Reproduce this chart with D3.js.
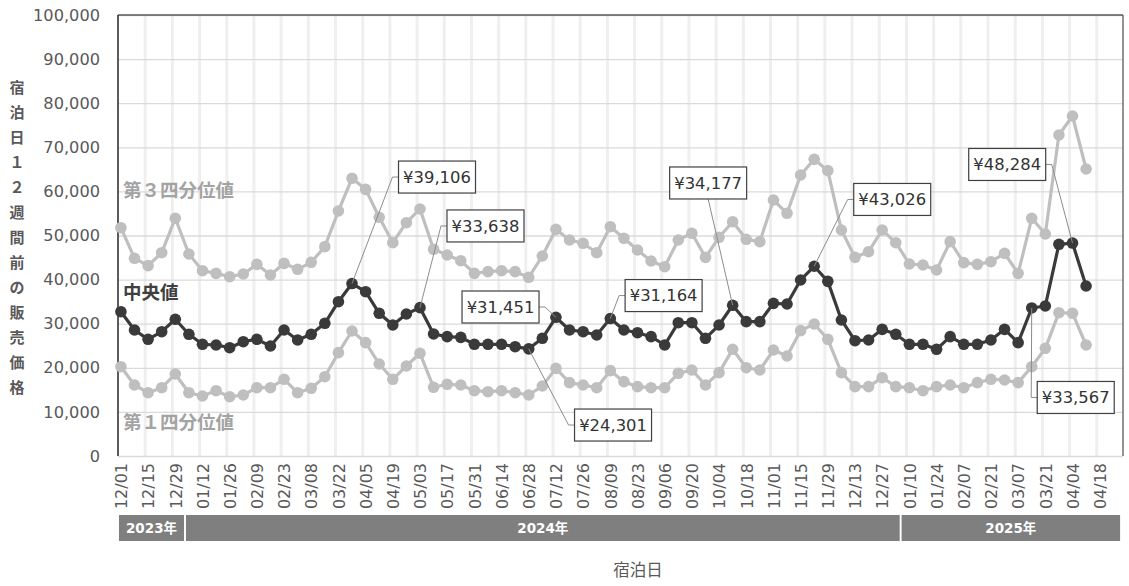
<!DOCTYPE html>
<html><head><meta charset="utf-8">
<script src="https://cdn.jsdelivr.net/npm/d3@7"></script>
<style>
html,body{margin:0;padding:0;background:#fff;}
svg{display:block;font-family:"DejaVu Sans","Noto Sans CJK JP",sans-serif;}
</style></head>
<body>
<svg id="c" width="1129" height="586"></svg>
<script>
const weeks = ["2023-12-01","2023-12-08","2023-12-15","2023-12-22","2023-12-29",
"2024-01-05","2024-01-12","2024-01-19","2024-01-26","2024-02-02","2024-02-09","2024-02-16","2024-02-23",
"2024-03-01","2024-03-08","2024-03-15","2024-03-22","2024-03-29","2024-04-05","2024-04-12","2024-04-19","2024-04-26",
"2024-05-03","2024-05-10","2024-05-17","2024-05-24","2024-05-31","2024-06-07","2024-06-14","2024-06-21","2024-06-28",
"2024-07-05","2024-07-12","2024-07-19","2024-07-26","2024-08-02","2024-08-09","2024-08-16","2024-08-23","2024-08-30",
"2024-09-06","2024-09-13","2024-09-20","2024-09-27","2024-10-04","2024-10-11","2024-10-18","2024-10-25",
"2024-11-01","2024-11-08","2024-11-15","2024-11-22","2024-11-29","2024-12-06","2024-12-13","2024-12-20","2024-12-27",
"2025-01-03","2025-01-10","2025-01-17","2025-01-24","2025-01-31","2025-02-07","2025-02-14","2025-02-21","2025-02-28",
"2025-03-07","2025-03-14","2025-03-21","2025-03-28","2025-04-04","2025-04-11"];

const q3Values = [51770,44830,43160,46100,53900,45800,42020,41420,40660,41270,
43460,41040,43690,42330,43920,47470,55560,62970,60470,54130,
48370,52900,56010,46870,45580,44290,41420,41800,42020,41800,
40520,45350,51400,48980,48230,46100,52000,49360,46710,44220,
42930,48980,50500,45050,49590,53130,49140,48600,58050,55030,
63720,67280,64700,51250,45050,46330,51250,48370,43540,43310,
42180,48600,43840,43460,44060,45960,41420,53900,50340,72790,
77100,65080];

const medianValues = [32720,28570,26460,28190,31000,27600,25330,25170,24560,25920,
26460,24940,28570,26300,27600,30090,34990,39106,37260,32360,
29700,32200,33638,27660,27060,26910,25330,25330,25330,24790,
24301,26690,31451,28570,28190,27440,31164,28570,27960,27060,
25170,30230,30230,26690,29700,34177,30460,30460,34620,34470,
39910,43026,39600,30840,26150,26300,28720,27600,25330,25330,
24190,27060,25330,25330,26300,28720,25700,33567,34010,48000,
48284,38550];

const q1Values = [20250,16100,14350,15490,18590,14350,13610,14810,13450,13830,
15490,15490,17390,14350,15350,17980,23430,28340,25700,20860,
17390,20410,23290,15580,16260,16100,14810,14580,14810,14350,
13830,15870,19870,16630,16100,15490,19350,16860,15720,15490,
15490,18750,19500,16100,18900,24190,20020,19500,24040,22680,
28420,29930,26460,18900,15720,15720,17760,15720,15490,14810,
15720,16100,15490,16630,17390,17230,16630,20250,24420,32500,
32360,25170];

const tickDates = ["2023-12-01","2023-12-15","2023-12-29","2024-01-12","2024-01-26","2024-02-09","2024-02-23",
"2024-03-08","2024-03-22","2024-04-05","2024-04-19","2024-05-03","2024-05-17","2024-05-31","2024-06-14","2024-06-28",
"2024-07-12","2024-07-26","2024-08-09","2024-08-23","2024-09-06","2024-09-20","2024-10-04","2024-10-18",
"2024-11-01","2024-11-15","2024-11-29","2024-12-13","2024-12-27","2025-01-10","2025-01-24","2025-02-07",
"2025-02-21","2025-03-07","2025-03-21","2025-04-04","2025-04-18"];

const yTicks = [0,10000,20000,30000,40000,50000,60000,70000,80000,90000,100000];

const yearLabels = ["2023年","2024年","2025年"];
const yearStarts = ["2023-11-30T00:00","2024-01-03T12:00","2025-01-06T00:00"];
const yearEnds   = ["2024-01-02T12:00","2025-01-05T00:00","2025-04-28T12:00"];

const seriesNames = ["第３四分位値","中央値","第１四分位値"];
const yTitle = "宿泊日１２週間前の販売価格";
const xTitle = "宿泊日";

// callouts on the median series (index into weeks) and layout offsets (px)
const calloutIdx = [17,22,32,30,36,45,51,70,67];
const calloutLayout = [
 {dx:85,dy:-106.5,side:"left"},
 {dx:65.5,dy:-81.7,side:"left"},
 {dx:-55.4,dy:-10.3,side:"right"},
 {dx:84.3,dy:76.2,side:"left"},
 {dx:53.3,dy:-23,side:"left"},
 {dx:-24.5,dy:-122.3,side:"bottom"},
 {dx:78,dy:-66.8,side:"left"},
 {dx:-65.3,dy:-78.6,side:"right"},
 {dx:44,dy:89.5,side:"left"}
];

const parse = s => new Date(s.length > 10 ? s : s + "T00:00");
const svg = d3.select("#c");
const L = 118, R = 1123, T = 15, B = 456;

const x = d3.scaleTime()
  .domain([parse("2023-11-29T12:00"), parse("2025-04-30T00:00")])
  .range([L, R]);
const y = d3.scaleLinear().domain([0, 100000]).range([B, T]);

const dates = weeks.map(parse);
const ticks = tickDates.map(parse);

// vertical gridlines (between day slots, 1.5 days before tick)
const g = svg.append("g");
g.selectAll("line.vg").data(ticks.slice(1)).join("line")
  .attr("x1", d => x(d3.timeHour.offset(d, -36))).attr("x2", d => x(d3.timeHour.offset(d, -36)))
  .attr("y1", T).attr("y2", B)
  .attr("stroke", "#efefef").attr("stroke-width", 3);

// horizontal gridlines via axis
const yAxis = d3.axisLeft(y).tickValues(yTicks).tickSize(-(R - L)).tickFormat(d3.format(","));
const ya = svg.append("g").attr("transform", `translate(${L},0)`).call(yAxis);
ya.select(".domain").remove();
ya.selectAll(".tick line").attr("stroke", "#dadada").attr("stroke-width", 1.3);
ya.selectAll(".tick text").attr("x", -18).attr("fill", "#595959").attr("font-size", 16.2)
  .attr("font-family", "DejaVu Sans");

// frame
svg.append("line").attr("x1", L).attr("x2", R).attr("y1", T).attr("y2", T).attr("stroke", "#595959").attr("stroke-width", 1.3);
svg.append("line").attr("x1", R).attr("x2", R).attr("y1", T).attr("y2", B).attr("stroke", "#595959").attr("stroke-width", 1.3);
svg.append("line").attr("x1", L).attr("x2", L).attr("y1", T).attr("y2", B).attr("stroke", "#262626").attr("stroke-width", 1.5);

// x axis labels
const xAxis = d3.axisBottom(x).tickValues(ticks).tickSize(0).tickFormat(d3.timeFormat("%m/%d"));
const xa = svg.append("g").attr("transform", `translate(0,${B})`).call(xAxis);
xa.select(".domain").remove();
xa.selectAll(".tick text")
  .attr("transform", "rotate(-90)")
  .attr("x", -7).attr("y", 0).attr("dy", "0.36em")
  .attr("text-anchor", "end")
  .attr("fill", "#595959").attr("font-size", 16).attr("font-family", "DejaVu Sans");

// series
const series = [
  {vals: q3Values, color: "#bfbfbf"},
  {vals: q1Values, color: "#bfbfbf"},
  {vals: medianValues, color: "#3a3a3a"}
];
const line = d3.line().x((d, i) => x(dates[i])).y(d => y(d));
series.forEach(s => {
  const gs = svg.append("g");
  gs.append("path").datum(s.vals).attr("d", line).attr("fill", "none")
    .attr("stroke", s.color).attr("stroke-width", 3.2).attr("stroke-linejoin", "round");
  gs.selectAll("circle").data(s.vals).join("circle")
    .attr("cx", (d, i) => x(dates[i])).attr("cy", d => y(d)).attr("r", 5.8)
    .attr("fill", s.color);
});

// callouts
const fmt = d3.format(",");
const cg = svg.append("g");
calloutIdx.forEach((idx, k) => {
  const lay = calloutLayout[k];
  const px = x(dates[idx]), py = y(medianValues[idx]);
  const cx = px + lay.dx, cy = py + lay.dy;
  const txt = "¥" + fmt(medianValues[idx]);
  const t = cg.append("text").attr("x", cx).attr("y", cy).attr("dy", "0.36em")
    .attr("text-anchor", "middle").attr("font-size", 16.4).attr("fill", "#333").text(txt);
  const w = 77, h = 32;
  let pts;
  if (lay.side === "left") pts = [[cx - w / 2, cy], [cx - w / 2 - 6, cy], [px, py]];
  else if (lay.side === "right") pts = [[cx + w / 2, cy], [cx + w / 2 + 6, cy], [px, py]];
  else pts = [[cx, cy + h / 2], [px, py]];
  cg.insert("path", "text").attr("d", d3.line()(pts)).attr("fill", "none")
    .attr("stroke", "#8c8c8c").attr("stroke-width", 1);
  cg.insert("rect", "text").attr("x", cx - w / 2).attr("y", cy - h / 2).attr("width", w).attr("height", h)
    .attr("fill", "#fff").attr("stroke", "#404040").attr("stroke-width", 1.2);
  t.raise();
});

// series name labels
const nameStyle = [{y: 190, c: "#a3a3a3"}, {y: 292.5, c: "#404040"}, {y: 422, c: "#a3a3a3"}];
seriesNames.forEach((n, i) => {
  svg.append("text").attr("x", 123).attr("y", nameStyle[i].y).attr("dy", "0.36em")
    .attr("font-size", 18.5).attr("font-weight", "bold").attr("fill", nameStyle[i].c)
    .attr("font-family", "Noto Sans CJK JP").text(n);
});

// y title (vertical stacked)
const yt = svg.append("text").attr("font-size", 15).attr("font-weight", "bold").attr("fill", "#595959")
  .attr("text-anchor", "middle").attr("font-family", "Noto Sans CJK JP");
Array.from(yTitle).forEach((ch, i) => {
  yt.append("tspan").attr("x", 17).attr("y", 88 + i * 25).attr("dy", "0.36em").text(ch);
});

// year bands
yearLabels.forEach((lab, i) => {
  const x0 = x(parse(yearStarts[i])), x1 = x(parse(yearEnds[i]));
  svg.append("rect").attr("x", x0).attr("y", 515).attr("width", x1 - x0).attr("height", 26).attr("fill", "#7f7f7f");
  svg.append("text").attr("x", (x0 + x1) / 2).attr("y", 528).attr("dy", "0.36em").attr("text-anchor", "middle")
    .attr("font-size", 13.5).attr("font-weight", "bold").attr("fill", "#fff")
    .attr("font-family", "DejaVu Sans, Noto Sans CJK JP").text(lab);
});

// x title
svg.append("text").attr("x", 638).attr("y", 570).attr("dy", "0.36em").attr("text-anchor", "middle")
  .attr("font-size", 16.5).attr("fill", "#595959").attr("font-family", "Noto Sans CJK JP").text(xTitle);
</script>
</body></html>
